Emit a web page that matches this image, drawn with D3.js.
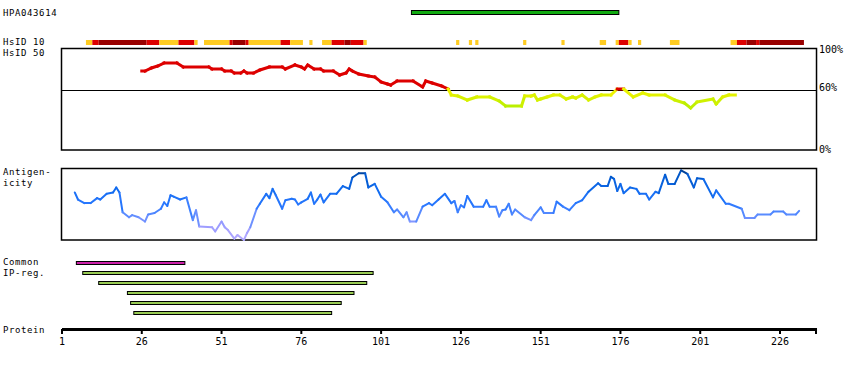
<!DOCTYPE html>
<html lang="en">
<head>
<meta charset="UTF-8">
<script src="https://d3js.org/d3.v7.min.js"></script>
<title>HPA043614</title>
<style>
  body { margin: 0; background: #fff; }
  text { font-family: "DejaVu Sans Mono", monospace; font-size: 10px; fill: #000; }
  text.lbl { font-size: 9px; letter-spacing: 0.6px; }
</style>
</head>
<body>
<svg id="svg1" width="850" height="370"></svg>
<script>
// ---- data ----
const antibodyName = "HPA043614";
const proteinLength = 237;
const antigenRange = [111, 175];
const tickValues = [1, 26, 51, 76, 101, 126, 151, 176, 201, 226];

// HsID 10 strip: [from, to(excl), level]  y = low, r = mid, d = high
const hsid10 = [
  [9, 11, "y"], [11, 13, "r"], [13, 28, "d"], [28, 32, "r"], [32, 38, "y"], [38, 43, "r"], [43, 44, "y"],
  [46, 54, "y"], [54, 55, "r"], [55, 59, "d"], [59, 60, "r"], [60, 70, "y"], [70, 73, "r"], [73, 77, "y"],
  [79, 80, "y"], [83, 86, "y"], [86, 90, "r"], [90, 92, "d"], [92, 96, "r"], [96, 97, "y"],
  [125, 126, "y"], [129, 130, "y"], [131, 132, "y"], [146, 147, "y"], [158, 159, "y"],
  [170, 172, "y"], [175, 176, "y"], [176, 179, "r"], [179, 180, "y"], [182, 183, "y"], [192, 195, "y"],
  [211, 213, "y"], [213, 216, "r"], [216, 219, "d"], [219, 220, "r"], [220, 234, "d"]
];

// HsID 50 identity (%)
const hsid50Pos = [26, 27, 29, 31, 33, 37, 39, 47, 48, 51, 52, 54, 55, 57, 58, 59, 61, 63, 66, 70, 71, 74, 76, 77, 78,
  80, 82, 83, 86, 88, 90, 91, 92, 94, 97, 99, 101, 103, 104, 106, 111, 114, 115, 117, 120, 122, 123, 125, 128,
  131, 135, 138, 140, 145, 146, 148, 149, 150, 151, 153, 155, 157, 159, 161, 162, 164, 166, 168, 170, 173,
  175, 177, 180, 183, 185, 190, 193, 196, 198, 200, 205, 206, 208, 210, 212];
const hsid50Val = [79, 79, 82, 84, 87, 87, 83, 83, 81, 81, 79, 79, 77, 77, 79, 77, 77, 80, 83, 83, 81, 85, 83, 81, 85,
  81, 81, 79, 79, 75, 77, 81, 79, 76, 74, 73, 68, 66, 65, 69, 69, 63, 69, 67, 64, 61, 55, 54, 50,
  53, 53, 49, 44, 44, 54, 54, 55, 50, 51, 53, 55, 55, 51, 53, 52, 55, 50, 53, 55, 55,
  61, 61, 53, 57, 55, 55, 50, 47, 42, 48, 51, 46, 53, 55, 55];

// antigenicity (0..1)
const antiPos = [5, 6, 8, 10, 12, 13, 15, 17, 18, 19, 20, 22, 23, 25, 27, 28, 30, 32, 33, 34, 35, 36, 38, 40,
  42, 43, 44, 48, 49, 51, 52, 53, 55, 56, 58, 59, 60, 62, 63, 65, 66, 67, 68, 70, 71, 73, 74, 75, 76, 78,
  79, 80, 81, 82, 83, 85, 87, 89, 91, 92, 94, 96, 97, 99, 101, 103, 105, 106, 108, 109, 110, 112, 114, 116,
  117, 119, 121, 123, 124, 125, 126, 127, 128, 130, 133, 134, 135, 137, 138, 139, 140, 141, 142, 143, 146,
  148, 149, 151, 152, 155, 156, 158, 160, 162, 164, 166, 169, 170, 172, 173, 174, 175, 176, 177, 179, 181,
  182, 184, 185, 187, 188, 190, 191, 193, 195, 197, 199, 200, 202, 205, 206, 209, 210, 214, 215, 218, 219,
  223, 224, 227, 228, 231, 232];
const antiVal = [0.67, 0.57, 0.52, 0.52, 0.59, 0.57, 0.65, 0.67, 0.74, 0.67, 0.39, 0.32, 0.35, 0.32, 0.26, 0.36,
  0.38, 0.44, 0.53, 0.48, 0.63, 0.61, 0.57, 0.60,
  0.28, 0.42, 0.19, 0.18, 0.12, 0.26, 0.18, 0.14, 0.02, 0.07, 0.00, 0.10, 0.18, 0.44, 0.51, 0.65, 0.59, 0.72,
  0.63, 0.44, 0.56, 0.58, 0.57, 0.50, 0.53, 0.58,
  0.67, 0.51, 0.57, 0.64, 0.53, 0.65, 0.65, 0.76, 0.72, 0.88, 0.94, 0.94, 0.74, 0.79, 0.61, 0.53, 0.39, 0.43,
  0.32, 0.39, 0.26, 0.26, 0.47, 0.52,
  0.49, 0.57, 0.65, 0.52, 0.55, 0.39, 0.49, 0.46, 0.62, 0.47, 0.47, 0.56, 0.47, 0.47, 0.33, 0.42, 0.43, 0.51,
  0.36, 0.43, 0.32,
  0.28, 0.35, 0.46, 0.38, 0.38, 0.54, 0.47, 0.42, 0.52, 0.56, 0.68, 0.80, 0.76, 0.76, 0.89, 0.86, 0.69, 0.79,
  0.66, 0.74, 0.72,
  0.65, 0.65, 0.57, 0.68, 0.66, 0.92, 0.79, 0.79, 0.98, 0.93, 0.74, 0.87, 0.86, 0.60, 0.70, 0.51, 0.51, 0.44,
  0.31, 0.31, 0.36,
  0.36, 0.40, 0.40, 0.36, 0.36, 0.41];

// common IP-regions: [start, end]
const commonRegion = [6, 39];
const ipRegions = [[8, 98], [13, 96], [22, 92], [23, 88], [24, 85]];

// ---- chart ----
const svg1 = d3.select("svg#svg1");

const xScale = d3.scaleLinear().domain([1, 226]).range([62, 780]);
const xEnd = xScale(proteinLength + 0.6);

const hsidY = d3.scaleLinear().domain([0, 100]).range([150, 50]);
const antiY = d3.scaleLinear().domain([0, 1]).range([240, 169]);

const levelColor = { y: "#ffcc22", r: "#dd0000", d: "#990000" };
const hsidColor = v => v >= 60 ? "#dd0000"
  : d3.interpolateRgb("#f4f400", "#b4ee00")(Math.min(1, (60 - v) / 18));
const antiColor = d3.scaleLinear()
  .domain([0, 0.2, 0.35, 0.5, 0.7, 0.88, 1])
  .range(["#b4aaff", "#9c9cff", "#5c8cff", "#2a78ff", "#126cf0", "#0058cc", "#00357c"]);

// labels on the left
const labels = [
  [antibodyName, 16], ["HsID 10", 45], ["HsID 50", 56], ["Antigen-", 175], ["icity", 186],
  ["Common", 265], ["IP-reg.", 276], ["Protein", 333]
];
svg1.selectAll("text.lbl").data(labels).join("text")
  .attr("class", "lbl")
  .attr("x", 3)
  .attr("y", d => d[1])
  .text(d => d[0]);

// antigen bar
svg1.append("rect")
  .attr("x", xScale(antigenRange[0] - 0.5))
  .attr("y", 10.5)
  .attr("width", xScale(antigenRange[1] + 0.5) - xScale(antigenRange[0] - 0.5))
  .attr("height", 4)
  .attr("fill", "#11aa11")
  .attr("stroke", "#000")
  .attr("stroke-width", 1);

// HsID 10 strip
svg1.append("g").selectAll("rect").data(hsid10).join("rect")
  .attr("x", d => xScale(d[0] - 0.5))
  .attr("y", 40)
  .attr("width", d => xScale(d[1] - 0.5) - xScale(d[0] - 0.5))
  .attr("height", 5)
  .attr("fill", d => levelColor[d[2]]);

// HsID 50 panel
const hsidBox = svg1.append("g");
hsidBox.append("rect")
  .attr("x", 61.5).attr("y", 48.5)
  .attr("width", xEnd - 62).attr("height", 101.5)
  .attr("fill", "none").attr("stroke", "#000").attr("stroke-width", 1.5);
hsidBox.append("line")
  .attr("x1", 61.5).attr("x2", xEnd - 0.5)
  .attr("y1", Math.round(hsidY(60)) + 0.5).attr("y2", Math.round(hsidY(60)) + 0.5)
  .attr("stroke", "#000").attr("stroke-width", 1.2);
[[100, "100%", 53], [60, "60%", 91], [0, "0%", 153]].forEach(d => {
  hsidBox.append("text").attr("x", xEnd + 2).attr("y", d[2]).text(d[1]);
});

const hsidPts = hsid50Pos.map((p, i) => [p, hsid50Val[i]]);
d3.pairs(hsidPts).forEach(([a, b]) => {
  svg1.append("line")
    .attr("x1", xScale(a[0])).attr("y1", hsidY(a[1]))
    .attr("x2", xScale(b[0])).attr("y2", hsidY(b[1]))
    .attr("stroke", hsidColor(Math.min(a[1], b[1]) >= 60 ? 61 : (a[1] + b[1]) / 2))
    .attr("stroke-width", 3)
    .attr("stroke-linecap", "square");
});

// antigenicity panel
svg1.append("rect")
  .attr("x", 61.5).attr("y", 168.5)
  .attr("width", xEnd - 62).attr("height", 71.5)
  .attr("fill", "none").attr("stroke", "#000").attr("stroke-width", 1.5);

const antiPts = antiPos.map((p, i) => [p, antiVal[i]]);
d3.pairs(antiPts).forEach(([a, b]) => {
  svg1.append("line")
    .attr("x1", xScale(a[0])).attr("y1", antiY(a[1]))
    .attr("x2", xScale(b[0])).attr("y2", antiY(b[1]))
    .attr("stroke", antiColor((a[1] + b[1]) / 2))
    .attr("stroke-width", 2)
    .attr("stroke-linecap", "round");
});

// IP regions
svg1.append("rect")
  .attr("x", xScale(commonRegion[0] - 0.5)).attr("y", 261.5)
  .attr("width", xScale(commonRegion[1] + 0.5) - xScale(commonRegion[0] - 0.5))
  .attr("height", 3)
  .attr("fill", "#cc22aa").attr("stroke", "#000").attr("stroke-width", 1);

svg1.append("g").selectAll("rect").data(ipRegions).join("rect")
  .attr("x", d => xScale(d[0] - 0.5))
  .attr("y", (d, i) => 271.5 + i * 10)
  .attr("width", d => xScale(d[1] + 0.5) - xScale(d[0] - 0.5))
  .attr("height", 3)
  .attr("fill", "#99cc55").attr("stroke", "#000").attr("stroke-width", 1);

// protein axis
const axisG = svg1.append("g");
axisG.append("line")
  .attr("x1", xScale(1)).attr("x2", xEnd)
  .attr("y1", 329.5).attr("y2", 329.5)
  .attr("stroke", "#000").attr("stroke-width", 3);
axisG.selectAll("line.tick").data(tickValues.concat([proteinLength + 0.6])).join("line")
  .attr("class", "tick")
  .attr("x1", d => Math.min(xScale(d), xEnd - 1)).attr("x2", d => Math.min(xScale(d), xEnd - 1))
  .attr("y1", 329).attr("y2", 334)
  .attr("stroke", "#000").attr("stroke-width", 2);
axisG.selectAll("text.tick").data(tickValues).join("text")
  .attr("class", "tick")
  .attr("x", d => xScale(d))
  .attr("y", 345)
  .attr("text-anchor", "middle")
  .text(d => d);
</script>
</body>
</html>
